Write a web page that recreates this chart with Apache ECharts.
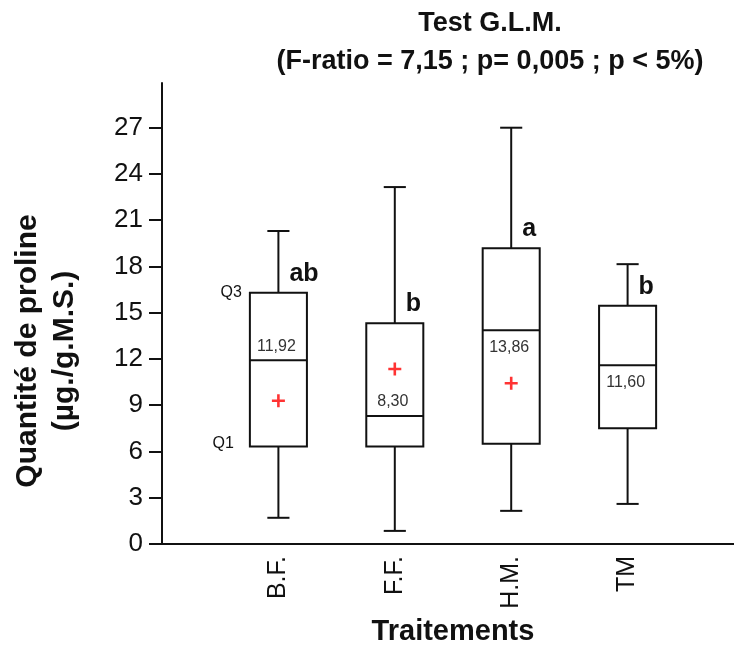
<!DOCTYPE html>
<html>
<head>
<meta charset="utf-8">
<script src="https://cdn.jsdelivr.net/npm/echarts@6/dist/echarts.min.js"></script>
<style>
  html, body { margin: 0; padding: 0; background: #fff; }
  #chart { width: 734px; height: 645px; }
</style>
</head>
<body>
<div id="chart"></div>
<script>
// Treatments and their five-number summaries (whisker low, Q1, median, Q3, whisker high)
const categories = ['B.F.', 'F.F.', 'H.M.', 'TM'];
const whiskerLow  = [1.7, 0.85, 2.15, 2.6];
const q1Values    = [6.33, 6.33, 6.5, 7.5];
const medians     = [11.92, 8.30, 13.86, 11.60];
const q3Values    = [16.3, 14.32, 19.18, 15.46];
const whiskerHigh = [20.3, 23.15, 27.0, 18.15];
const means       = [9.29, 11.35, 10.43, null];
const groupLetters = ['ab', 'b', 'a', 'b'];
const yTicks = [0, 3, 6, 9, 12, 15, 18, 21, 24, 27];

const FONT = "'Liberation Sans', Arial, sans-serif";
const INK = '#111';

// Axis has an empty slot on each side so the boxes sit one step in from the edges
const axisCategories = [''].concat(categories, ['']);

const boxRows = categories.map((c, i) =>
  [c, whiskerLow[i], q1Values[i], medians[i], q3Values[i], whiskerHigh[i], i]);
const meanRows = categories.map((c, i) => [c, means[i]]).filter(r => r[1] != null);

const fmt = v => v.toFixed(2).replace('.', ',');
// median label sits above the line for the first two boxes, below for the others
const medianBelow = [false, false, true, true];

function renderBox(params, api) {
  const x = api.value(0);
  const i = api.value(6);
  const pLow = api.coord([x, api.value(1)]);
  const pQ1 = api.coord([x, api.value(2)]);
  const pMed = api.coord([x, api.value(3)]);
  const pQ3 = api.coord([x, api.value(4)]);
  const pHigh = api.coord([x, api.value(5)]);
  const band = api.size([1, 0])[0];
  const cx = pMed[0];
  const bw = band * 0.49;
  const cw = band * 0.19;
  const ls = { stroke: INK, lineWidth: 2, fill: null };
  const children = [
    { type: 'line', shape: { x1: cx, y1: pHigh[1], x2: cx, y2: pQ3[1] }, style: ls },
    { type: 'line', shape: { x1: cx, y1: pQ1[1], x2: cx, y2: pLow[1] }, style: ls },
    { type: 'line', shape: { x1: cx - cw / 2, y1: pHigh[1], x2: cx + cw / 2, y2: pHigh[1] }, style: ls },
    { type: 'line', shape: { x1: cx - cw / 2, y1: pLow[1], x2: cx + cw / 2, y2: pLow[1] }, style: ls },
    { type: 'rect', shape: { x: cx - bw / 2, y: pQ3[1], width: bw, height: pQ1[1] - pQ3[1] },
      style: { stroke: INK, lineWidth: 2, fill: '#fff' } },
    { type: 'line', shape: { x1: cx - bw / 2, y1: pMed[1], x2: cx + bw / 2, y2: pMed[1] }, style: ls },
    { type: 'text', x: cx - 2, y: pMed[1] + (medianBelow[i] ? 17 : -14),
      style: { text: fmt(api.value(3)), font: '16px ' + FONT, fill: '#333',
               align: 'center', verticalAlign: 'middle' } },
    { type: 'text', x: cx + 11, y: pQ3[1] - 19,
      style: { text: groupLetters[i], font: 'bold 25px ' + FONT, fill: INK,
               align: 'left', verticalAlign: 'middle' } }
  ];
  if (i === 0) {
    children.push(
      { type: 'text', x: cx - bw / 2 - 8, y: pQ3[1], style: { text: 'Q3', font: '16px ' + FONT,
        fill: INK, align: 'right', verticalAlign: 'middle' } },
      { type: 'text', x: cx - bw / 2 - 16, y: pQ1[1] - 3, style: { text: 'Q1', font: '16px ' + FONT,
        fill: INK, align: 'right', verticalAlign: 'middle' } }
    );
  }
  return { type: 'group', children };
}

const chart = echarts.init(document.getElementById('chart'), null, { renderer: 'canvas' });
chart.setOption({
  animation: false,
  backgroundColor: '#fff',
  title: {
    text: 'Test G.L.M.\n(F-ratio = 7,15 ; p= 0,005 ; p < 5%)',
    left: 485, top: 0, textAlign: 'center',
    textStyle: { fontFamily: FONT, fontSize: 27, fontWeight: 'bold', color: INK, lineHeight: 38 }
  },
  grid: { left: 162, top: 83, width: 582, height: 461, containLabel: false, outerBoundsMode: 'none' },
  xAxis: {
    type: 'category', data: axisCategories, boundaryGap: false,
    axisLine: { lineStyle: { color: INK, width: 2 } },
    axisTick: { show: false },
    axisLabel: { rotate: 90, margin: 12, fontFamily: FONT, fontSize: 25, color: INK, interval: 0 },
    splitLine: { show: false },
    name: 'Traitements', nameLocation: 'middle', nameGap: 73,
    nameTextStyle: { fontFamily: FONT, fontSize: 29, fontWeight: 'bold', color: INK }
  },
  yAxis: {
    type: 'value', min: 0, max: 29.9,
    axisLine: { show: true, lineStyle: { color: INK, width: 2 } },
    axisTick: { show: true, length: 13, lineStyle: { color: INK, width: 2 }, customValues: yTicks },
    axisLabel: { margin: 19, fontFamily: FONT, fontSize: 26, color: INK, customValues: yTicks },
    splitLine: { show: false }
  },
  graphic: [{
    type: 'group', x: 46, y: 351, rotation: Math.PI / 2,
    children: [
      { type: 'text', x: 0, y: -18, style: { text: 'Quantité de proline', font: 'bold 30px ' + FONT,
        fill: INK, align: 'center', verticalAlign: 'middle' } },
      { type: 'text', x: 0, y: 19, style: { text: '(µg./g.M.S.)', font: 'bold 30px ' + FONT,
        fill: INK, align: 'center', verticalAlign: 'middle' } }
    ]
  }],
  series: [
    {
      type: 'custom', name: 'box', data: boxRows,
      encode: { x: 0, y: [1, 2, 3, 4, 5] },
      renderItem: renderBox, z: 2
    },
    {
      type: 'scatter', name: 'mean', data: meanRows,
      symbol: 'path://M4,0H6V4H10V6H6V10H4V6H0V4H4Z', symbolSize: 13,
      itemStyle: { color: '#ff0000' }, z: 3
    }
  ]
});
</script>
</body>
</html>
